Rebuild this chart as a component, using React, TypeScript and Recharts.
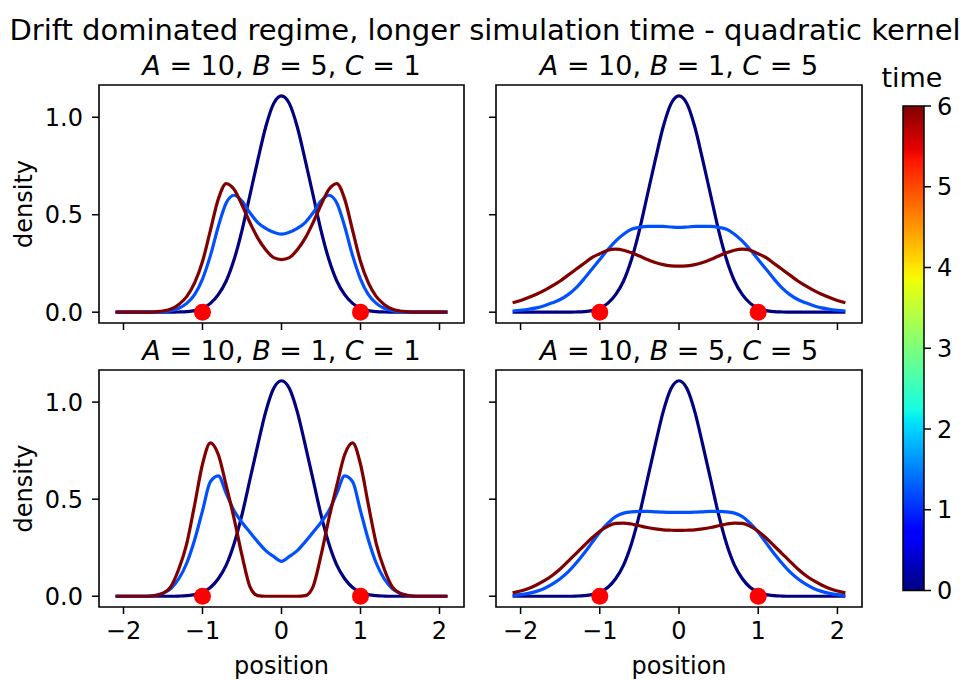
import { ComposedChart, Line, Scatter, XAxis, YAxis, ReferenceArea, Label, BarChart, Bar } from 'recharts'

const FONT = '"DejaVu Sans", sans-serif'

// positions sampled every 0.1 from -2.1 to 2.1
const positions = [-2.1, -2.0, -1.9, -1.8, -1.7, -1.6, -1.5, -1.4, -1.3, -1.2, -1.1, -1.0, -0.9, -0.8, -0.7, -0.6, -0.5, -0.4, -0.3, -0.2, -0.1, 0, 0.1, 0.2, 0.3, 0.4, 0.5, 0.6, 0.7, 0.8, 0.9, 1.0, 1.1, 1.2, 1.3, 1.4, 1.5, 1.6, 1.7, 1.8, 1.9, 2.0, 2.1]

// t = 0, same start in every panel
const densityStart = [0, 0, 0, 0, 0, 0, 0, 0, 0.001, 0.003, 0.008, 0.02, 0.045, 0.09, 0.16, 0.27, 0.42, 0.60, 0.78, 0.95, 1.07, 1.11, 1.07, 0.95, 0.78, 0.60, 0.42, 0.27, 0.16, 0.09, 0.045, 0.02, 0.008, 0.003, 0.001, 0, 0, 0, 0, 0, 0, 0, 0]

// A=10, B=5, C=1
const p1Mid = [0, 0, 0, 0, 0, 0.001, 0.003, 0.008, 0.02, 0.045, 0.09, 0.17, 0.29, 0.44, 0.56, 0.60, 0.57, 0.51, 0.46, 0.43, 0.41, 0.40, 0.41, 0.43, 0.46, 0.51, 0.57, 0.60, 0.56, 0.44, 0.29, 0.17, 0.09, 0.045, 0.02, 0.008, 0.003, 0.001, 0, 0, 0, 0, 0]
const p1End = [0, 0, 0, 0, 0, 0.002, 0.006, 0.016, 0.04, 0.08, 0.15, 0.26, 0.42, 0.58, 0.66, 0.63, 0.55, 0.46, 0.38, 0.32, 0.28, 0.27, 0.28, 0.32, 0.38, 0.46, 0.55, 0.63, 0.66, 0.58, 0.42, 0.26, 0.15, 0.08, 0.04, 0.016, 0.006, 0.002, 0, 0, 0, 0, 0]

// A=10, B=1, C=5
const p2Mid = [0.006, 0.01, 0.015, 0.022, 0.033, 0.048, 0.065, 0.09, 0.125, 0.17, 0.22, 0.27, 0.32, 0.365, 0.40, 0.425, 0.435, 0.44, 0.44, 0.44, 0.437, 0.435, 0.437, 0.44, 0.44, 0.44, 0.435, 0.425, 0.40, 0.365, 0.32, 0.27, 0.22, 0.17, 0.125, 0.09, 0.065, 0.048, 0.033, 0.022, 0.015, 0.01, 0.006]
const p2End = [0.048, 0.06, 0.075, 0.092, 0.112, 0.135, 0.16, 0.19, 0.22, 0.25, 0.28, 0.30, 0.318, 0.323, 0.318, 0.305, 0.288, 0.27, 0.255, 0.244, 0.238, 0.236, 0.238, 0.244, 0.255, 0.27, 0.288, 0.305, 0.318, 0.323, 0.318, 0.30, 0.28, 0.25, 0.22, 0.19, 0.16, 0.135, 0.112, 0.092, 0.075, 0.06, 0.048]

// A=10, B=1, C=1
const p3Mid = [0, 0, 0, 0, 0, 0.005, 0.015, 0.04, 0.09, 0.17, 0.29, 0.44, 0.59, 0.62, 0.53, 0.44, 0.38, 0.33, 0.28, 0.235, 0.205, 0.18, 0.205, 0.235, 0.28, 0.33, 0.38, 0.44, 0.53, 0.62, 0.59, 0.44, 0.29, 0.17, 0.09, 0.04, 0.015, 0.005, 0, 0, 0, 0, 0]
const p3End = [0, 0, 0, 0, 0, 0.004, 0.015, 0.05, 0.14, 0.27, 0.47, 0.68, 0.79, 0.73, 0.57, 0.40, 0.21, 0.05, 0.003, 0, 0, 0, 0, 0, 0.003, 0.05, 0.21, 0.40, 0.57, 0.73, 0.79, 0.68, 0.47, 0.27, 0.14, 0.05, 0.015, 0.004, 0, 0, 0, 0, 0]

// A=10, B=5, C=5
const p4Mid = [0.004, 0.008, 0.015, 0.025, 0.04, 0.062, 0.09, 0.125, 0.17, 0.22, 0.275, 0.33, 0.375, 0.41, 0.428, 0.435, 0.437, 0.437, 0.435, 0.433, 0.432, 0.432, 0.432, 0.433, 0.435, 0.437, 0.437, 0.435, 0.428, 0.41, 0.375, 0.33, 0.275, 0.22, 0.17, 0.125, 0.09, 0.062, 0.04, 0.025, 0.015, 0.008, 0.004]
const p4End = [0.017, 0.027, 0.04, 0.058, 0.08, 0.107, 0.14, 0.18, 0.22, 0.26, 0.30, 0.335, 0.36, 0.375, 0.377, 0.372, 0.363, 0.354, 0.347, 0.342, 0.34, 0.339, 0.34, 0.342, 0.347, 0.354, 0.363, 0.372, 0.377, 0.375, 0.36, 0.335, 0.30, 0.26, 0.22, 0.18, 0.14, 0.107, 0.08, 0.058, 0.04, 0.027, 0.017]

const paramA = [10, 10, 10, 10]
const paramB = [5, 1, 1, 5]
const paramC = [1, 5, 1, 5]

const wellPositions = [-1, 1]
const xTicks = [-2, -1, 0, 1, 2]
const yTicks = [0, 0.5, 1.0]
const timeTicks = [0, 1, 2, 3, 4, 5, 6]
const timeMax = 6

const X_DOMAIN = [-2.31, 2.31]
const Y_DOMAIN = [-0.0555, 1.1655]

const COLORS = { start: '#000080', mid: '#0050ff', end: '#800000', dot: '#ff0000' }
const TICK_FONT = 24

// matplotlib jet
const JET = [
  [0, '#000080'], [0.11, '#0000ff'], [0.125, '#0000ff'], [0.34, '#00dbff'], [0.35, '#00e6f7'],
  [0.375, '#15ffe2'], [0.64, '#efff08'], [0.65, '#f7f500'], [0.66, '#ffec00'], [0.89, '#ff1300'],
  [0.91, '#e80000'], [1, '#800000'],
] as const

const fmtX = (v: number) => (v < 0 ? `\u2212${-v}` : `${v}`)

function Panel({ idx, mid, end, left, top, showX, showY }: {
  idx: number; mid: number[]; end: number[]; left: number; top: number; showX: boolean; showY: boolean
}) {
  const rows = positions.map((x, i) => ({ x, start: densityStart[i], mid: mid[i], end: end[i] }))
  const dots = wellPositions.map((x) => ({ x, y: 0 }))
  const yW = showY ? 99 : 30
  const xH = showX ? 72 : 20
  const plotH = showX ? 237 : 238
  const plotW = showY ? 365 : 366
  const width = yW + plotW + 2
  const height = 2 + plotH + xH
  const plotCenter = left + yW + plotW / 2
  const tickStyle = { fill: '#000', fontSize: TICK_FONT, fontFamily: FONT }
  return (
    <>
      <div style={{ position: 'absolute', left: plotCenter - 200, width: 400, top: top - 32, textAlign: 'center', fontSize: 27, lineHeight: '30px' }}>
        <i>A</i> = {paramA[idx]}, <i>B</i> = {paramB[idx]}, <i>C</i> = {paramC[idx]}
      </div>
      <div style={{ position: 'absolute', left, top }}>
        <ComposedChart width={width} height={height} data={rows} margin={{ top: 2, right: 2, left: 0, bottom: 0 }}>
          <XAxis dataKey="x" type="number" domain={X_DOMAIN} allowDataOverflow ticks={xTicks} height={xH}
            axisLine={false} tickLine={{ stroke: '#000', strokeWidth: 1.5 }} tickSize={7} tickMargin={8}
            tickFormatter={showX ? fmtX : () => ''} tick={tickStyle} interval={0}>
            {showX && <Label value="position" position="insideBottom" offset={5} style={tickStyle} />}
          </XAxis>
          <YAxis type="number" domain={Y_DOMAIN} allowDataOverflow ticks={yTicks} width={yW}
            axisLine={false} tickLine={{ stroke: '#000', strokeWidth: 1.5 }} tickSize={7} tickMargin={9}
            tickFormatter={showY ? (v: number) => v.toFixed(1) : () => ''} tick={tickStyle} interval={0}>
            {showY && <Label value="density" angle={-90} position="insideLeft" offset={23} style={{ ...tickStyle, textAnchor: 'middle' }} />}
          </YAxis>
          <Line type="monotone" dataKey="start" stroke={COLORS.start} strokeWidth={3.2} dot={false} isAnimationActive={false} />
          <Line type="monotone" dataKey="mid" stroke={COLORS.mid} strokeWidth={3.2} dot={false} isAnimationActive={false} />
          <Line type="monotone" dataKey="end" stroke={COLORS.end} strokeWidth={3.2} dot={false} isAnimationActive={false} />
          <Scatter data={dots} dataKey="y" isAnimationActive={false}
            shape={(p: any) => <circle cx={p.cx} cy={p.cy} r={8.5} fill={COLORS.dot} />} />
          <ReferenceArea x1={X_DOMAIN[0]} x2={X_DOMAIN[1]} y1={Y_DOMAIN[0]} y2={Y_DOMAIN[1]} fill="none" stroke="#000" strokeWidth={1.6} />
        </ComposedChart>
      </div>
    </>
  )
}

function Colorbar() {
  return (
    <div style={{ position: 'absolute', left: 900, top: 90.5 }}>
      <BarChart width={63} height={514.5} data={[{ name: 'time', v: timeMax }]} margin={{ top: 15, right: 0, bottom: 15, left: 3 }} barCategoryGap={0}>
        <defs>
          <linearGradient id="jet" x1="0" y1="1" x2="0" y2="0">
            {JET.map(([o, c]) => <stop key={o} offset={o} stopColor={c} />)}
          </linearGradient>
        </defs>
        <XAxis dataKey="name" hide />
        <YAxis orientation="right" type="number" domain={[0, timeMax]} ticks={timeTicks} width={39} interval={0}
          axisLine={false} tickLine={{ stroke: '#000', strokeWidth: 1.5 }} tickSize={7} tickMargin={6}
          tick={{ fill: '#000', fontSize: TICK_FONT, fontFamily: FONT }} />
        <Bar dataKey="v" fill="url(#jet)" stroke="#000" strokeWidth={1.5} isAnimationActive={false} />
      </BarChart>
    </div>
  )
}

export default function App() {
  return (
    <div style={{ position: 'absolute', left: 0, top: 0, width: 963, height: 680, background: '#fff', fontFamily: FONT, color: '#000', overflow: 'hidden' }}>
      <div style={{ position: 'absolute', left: 0, width: 970, top: 14, textAlign: 'center', fontSize: 29, lineHeight: '32px' }}>
        Drift dominated regime, longer simulation time - quadratic kernel
      </div>
      <Panel idx={0} mid={p1Mid} end={p1End} left={0} top={83} showX={false} showY />
      <Panel idx={1} mid={p2Mid} end={p2End} left={466} top={83} showX={false} showY={false} />
      <Panel idx={2} mid={p3Mid} end={p3End} left={0} top={368} showX showY />
      <Panel idx={3} mid={p4Mid} end={p4End} left={466} top={368} showX showY={false} />
      <div style={{ position: 'absolute', left: 862, width: 100, top: 62, textAlign: 'center', fontSize: 27, lineHeight: '32px' }}>time</div>
      <Colorbar />
    </div>
  )
}
